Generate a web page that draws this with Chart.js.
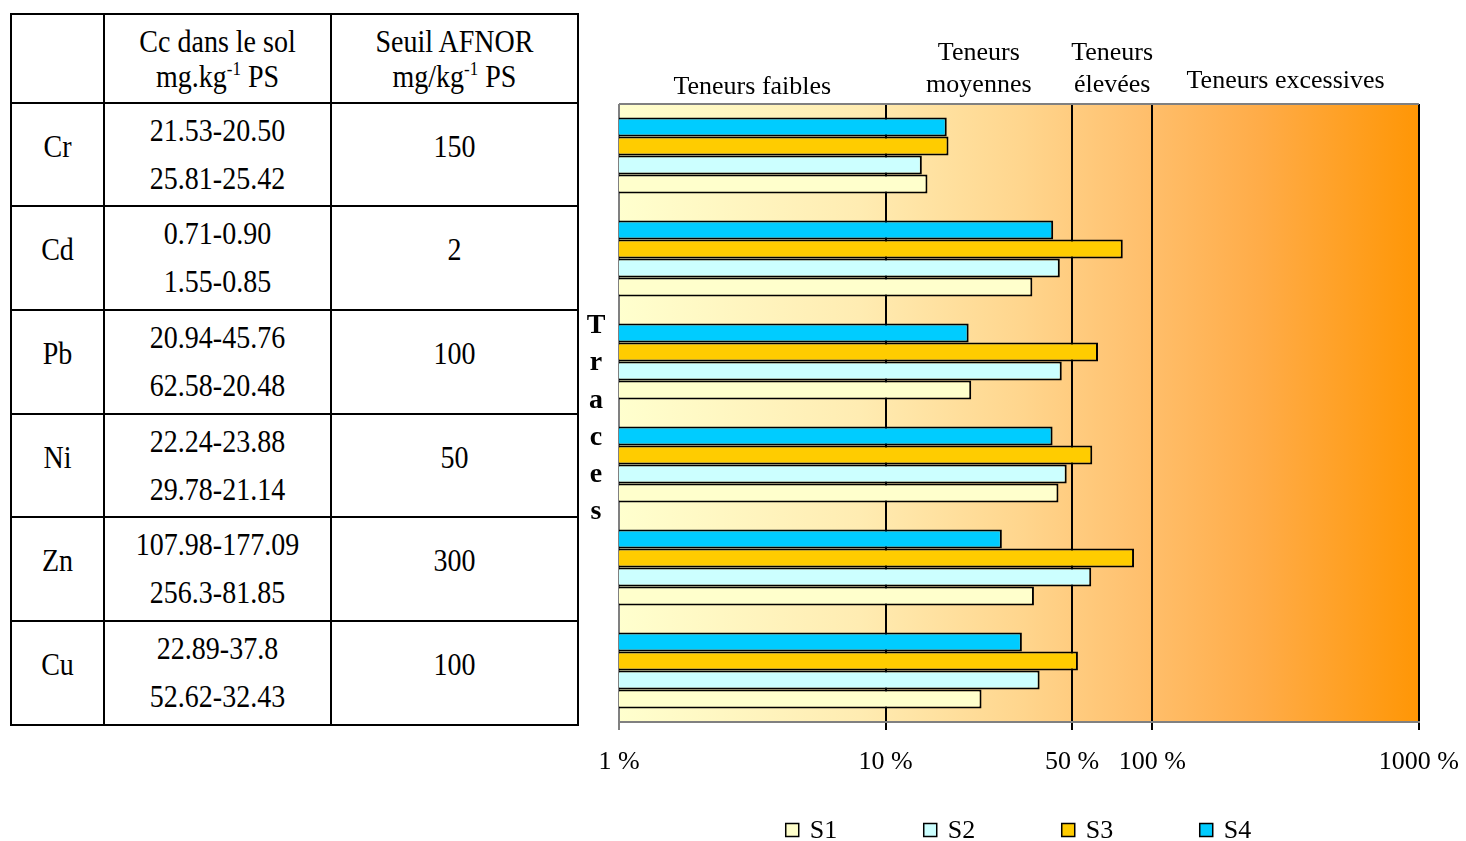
<!DOCTYPE html>
<html><head><meta charset="utf-8">
<script src="https://cdn.jsdelivr.net/npm/chart.js@4/dist/chart.umd.min.js"></script>
<style>
html,body{margin:0;padding:0;background:#fff;width:1466px;height:841px;overflow:hidden;font-family:"Liberation Serif","Times New Roman",serif;}
#tbl{position:absolute;left:10px;top:13px;border-collapse:collapse;table-layout:fixed;font-size:28px;color:#000;width:567px;}
#tbl td{border:2px solid #000;text-align:center;vertical-align:middle;padding:0;}
#tbl td.one{padding-bottom:16px;}
#tbl td.two{line-height:48px;}
#tbl td.hd{line-height:35px;}
#tbl span{display:inline-block;transform:scaleY(1.1);}
#tbl sup{font-size:17px;vertical-align:11px;line-height:0;}
#wrap{position:absolute;left:580px;top:0;width:896px;height:841px;}
</style></head><body>
<table id="tbl"><colgroup><col style="width:93px"><col style="width:227px"><col style="width:247px"></colgroup><tbody id="tb"></tbody></table>
<div id="wrap"><canvas id="c" width="896" height="841"></canvas></div>
<script>
// ---- data ----
const categories = ['Cr', 'Cd', 'Pb', 'Ni', 'Zn', 'Cu'];
const concLine1 = ['21.53-20.50', '0.71-0.90', '20.94-45.76', '22.24-23.88', '107.98-177.09', '22.89-37.8'];
const concLine2 = ['25.81-25.42', '1.55-0.85', '62.58-20.48', '29.78-21.14', '256.3-81.85', '52.62-32.43'];
const afnorThreshold = ['150', '2', '100', '50', '300', '100'];
// bar values, % of the AFNOR threshold
const s1 = [14.35, 35.5, 20.94, 44.48, 35.99, 22.89];
const s2 = [13.67, 45.0, 45.76, 47.76, 59.03, 37.8];
const s3 = [17.21, 77.5, 62.58, 59.56, 85.43, 52.62];
const s4 = [16.95, 42.5, 20.48, 42.28, 27.28, 32.43];
const seriesNames = ['S1', 'S2', 'S3', 'S4'];
const seriesColors = ['#FFFFCC', '#CCFFFF', '#FFCC00', '#00CCFF'];
const tickValues = [1, 10, 50, 100, 1000];
const zoneBounds = [1, 10, 50, 100, 1000];
const zoneLabels = [['Teneurs faibles'], ['Teneurs', 'moyennes'], ['Teneurs', 'élevées'], ['Teneurs excessives']];
const axisTitle = 'Traces';

// ---- table ----
const rowH = [103, 104, 104, 103, 104, 104];
let html = '<tr style="height:89px"><td></td><td class="hd"><span>Cc dans le sol</span><br><span>mg.kg<sup>-1</sup> PS</span></td><td class="hd"><span>Seuil AFNOR</span><br><span>mg/kg<sup>-1</sup> PS</span></td></tr>';
categories.forEach((c, i) => {
  html += `<tr style="height:${rowH[i]}px"><td class="one"><span>${c}</span></td><td class="two"><span>${concLine1[i]}</span><br><span>${concLine2[i]}</span></td><td class="one"><span>${afnorThreshold[i]}</span></td></tr>`;
});
document.getElementById('tb').innerHTML = html;

// ---- chart ----
const seriesData = [s1, s2, s3, s4];
const datasets = [3, 2, 1, 0].map(k => ({
  label: seriesNames[k],
  data: seriesData[k],
  backgroundColor: seriesColors[k],
  borderColor: '#000',
  borderWidth: 2,
  borderSkipped: 'start',
  categoryPercentage: 0.74,
  barPercentage: 1.0
}));

const FONT = '"Liberation Serif", "Times New Roman", serif';

const decor = {
  id: 'decor',
  beforeDraw(chart) {
    const a = chart.chartArea, ctx = chart.ctx;
    const g = ctx.createLinearGradient(a.left, 0, a.right, 0);
    g.addColorStop(0, 'rgb(255,255,206)');
    g.addColorStop(0.3, 'rgb(255,236,178)');
    g.addColorStop(0.5, 'rgb(255,214,142)');
    g.addColorStop(0.65, 'rgb(255,192,110)');
    g.addColorStop(0.8, 'rgb(255,172,72)');
    g.addColorStop(1, 'rgb(255,150,5)');
    ctx.save();
    ctx.fillStyle = g;
    ctx.fillRect(a.left, a.top, a.right - a.left, a.bottom - a.top);
    ctx.restore();
  },
  afterDraw(chart) {
    const a = chart.chartArea, ctx = chart.ctx, xs = chart.scales.x;
    ctx.save();
    // top border
    ctx.strokeStyle = '#808080'; ctx.lineWidth = 2;
    ctx.beginPath(); ctx.moveTo(a.left, a.top); ctx.lineTo(a.right, a.top); ctx.stroke();
    // zone labels
    ctx.fillStyle = '#000';
    ctx.font = '26px ' + FONT;
    ctx.textAlign = 'center'; ctx.textBaseline = 'alphabetic';
    zoneLabels.forEach((lines, i) => {
      const cx = (xs.getPixelForValue(zoneBounds[i]) + xs.getPixelForValue(zoneBounds[i + 1])) / 2;
      if (lines.length === 2) {
        ctx.fillText(lines[0], cx, a.top - 44);
        ctx.fillText(lines[1], cx, a.top - 12);
      } else {
        ctx.fillText(lines[0], cx, a.top - (i === 0 ? 10 : 16));
      }
    });
    // vertical axis title, stacked letters
    ctx.font = 'bold 28px ' + FONT;
    ctx.textBaseline = 'middle';
    const letters = axisTitle.split('');
    const cy = (a.top + a.bottom) / 2 + 6;
    letters.forEach((ch, i) => {
      ctx.fillText(ch, 16, cy + (i - (letters.length - 1) / 2) * 37.2);
    });
    // legend
    ctx.font = '26px ' + FONT;
    ctx.textAlign = 'left';
    const step = 138, box = 13;
    const itemW = box + 12 + ctx.measureText('S1').width;
    const total = step * (seriesNames.length - 1) + itemW;
    let x0 = (a.left + a.right) / 2 - total / 2;
    const ly = 830;
    seriesNames.forEach((n, k) => {
      const x = x0 + k * step;
      ctx.fillStyle = seriesColors[k];
      ctx.fillRect(x, ly - box / 2, box, box);
      ctx.strokeStyle = '#000'; ctx.lineWidth = 1.5;
      ctx.strokeRect(x, ly - box / 2, box, box);
      ctx.fillStyle = '#000';
      ctx.fillText(n, x + box + 11, ly + 1);
    });
    ctx.restore();
  }
};

new Chart(document.getElementById('c'), {
  type: 'bar',
  data: { labels: categories, datasets },
  options: {
    indexAxis: 'y',
    responsive: false,
    animation: false,
    layout: { padding: { left: 39, right: 37, top: 104, bottom: 0 } },
    plugins: { legend: { display: false }, tooltip: { enabled: false } },
    scales: {
      x: {
        type: 'logarithmic',
        min: 1, max: 1000,
        z: 1,
        afterBuildTicks: s => { s.ticks = tickValues.map(v => ({ value: v })); },
        afterFit: s => { s.height = 119; },
        grid: {
          color: c => (c.tick && c.tick.value === 1) ? '#808080' : '#000',
          tickColor: c => (c.tick && c.tick.value === 1) ? '#808080' : '#000',
          lineWidth: 2, tickLength: 8, drawOnChartArea: true
        },
        border: { display: true, color: '#808080', width: 2 },
        ticks: {
          autoSkip: false, maxRotation: 0, minRotation: 0, padding: 17,
          color: '#000', font: { family: FONT, size: 26 },
          callback: v => v + ' %'
        }
      },
      y: { display: false, grid: { display: false } }
    }
  },
  plugins: [decor]
});
</script>
</body></html>
